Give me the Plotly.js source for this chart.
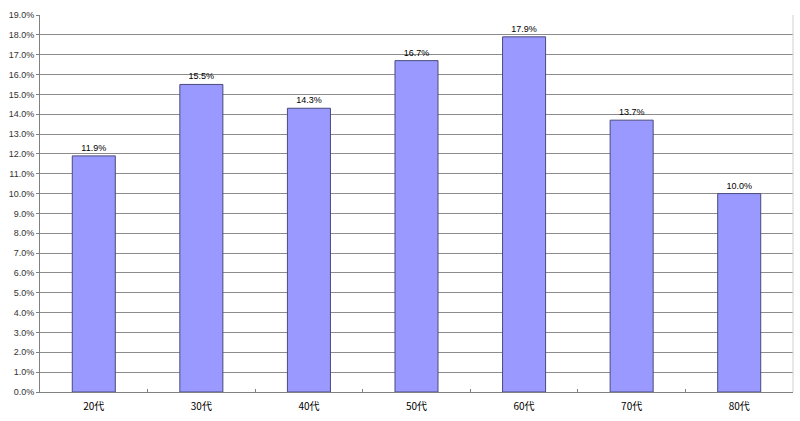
<!DOCTYPE html>
<html>
<head>
<meta charset="utf-8">
<script src="https://cdn.plot.ly/plotly-3.0.1.min.js"></script>
<style>
  html, body { margin: 0; padding: 0; background: #fff; }
  #chart { width: 800px; height: 421px; }
</style>
</head>
<body>
<div id="chart"></div>
<script>
// age groups and share of each
const categories = ['20代', '30代', '40代', '50代', '60代', '70代', '80代'];
const shares = [0.119, 0.155, 0.143, 0.167, 0.179, 0.137, 0.100];
const labels = ['11.9%', '15.5%', '14.3%', '16.7%', '17.9%', '13.7%', '10.0%'];

const fontFam = '"Liberation Sans", "Noto Sans CJK JP", Arial, sans-serif';

Plotly.newPlot('chart', [{
    type: 'bar',
    x: categories,
    y: shares,
    text: labels,
    textposition: 'outside',
    cliponaxis: false,
    textfont: { family: fontFam, size: 9, color: '#000' },
    marker: { color: '#9999FF', line: { color: '#4a4a7e', width: 1 } },
    hoverinfo: 'x+y'
}], {
    width: 800,
    height: 421,
    margin: { l: 40, r: 7, t: 15, b: 29 },
    bargap: 0.6,
    paper_bgcolor: '#fff',
    plot_bgcolor: '#fff',
    showlegend: false,
    font: { family: fontFam, size: 9, color: '#000' },
    xaxis: {
        type: 'category',
        showline: true,
        linecolor: '#808080',
        linewidth: 1,
        ticks: 'inside',
        tickson: 'boundaries',
        ticklen: 3,
        tickcolor: '#808080',
        showgrid: false,
        ticklabelstandoff: 5,
        tickfont: { family: '"Noto Sans CJK JP", sans-serif', size: 10 },
        fixedrange: true
    },
    yaxis: {
        range: [0, 0.19],
        dtick: 0.01,
        tickformat: '.1%',
        showline: true,
        linecolor: '#808080',
        ticks: 'outside',
        ticklen: 3,
        tickcolor: '#808080',
        gridcolor: '#8c8c8c',
        gridwidth: 1,
        zeroline: false,
        tickfont: { family: fontFam, size: 9, color: '#333' },
        fixedrange: true
    },
    shapes: [{
        type: 'line', xref: 'paper', yref: 'paper',
        x0: 1, x1: 1, y0: 0, y1: 1,
        line: { color: '#d0d0d0', width: 1 }
    }]
}, { displayModeBar: false, staticPlot: true });
</script>
</body>
</html>
